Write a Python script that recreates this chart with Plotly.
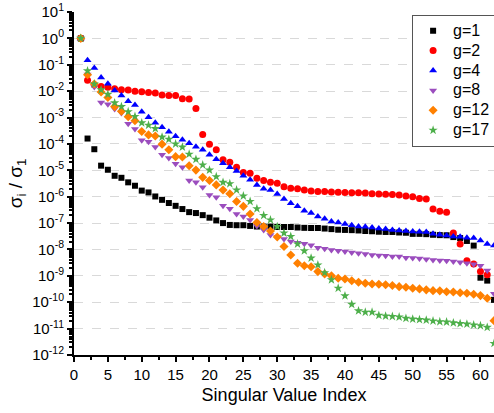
import plotly.graph_objects as go

index = list(range(1, 63))

g1 = [1, 1.6e-4, 6.3e-5, 1.5e-5, 1.05e-5, 6.2e-6, 5.2e-6, 3.5e-6, 2.6e-6, 1.7e-6,
      1.45e-6, 1.02e-6, 7.6e-7, 5.75e-7, 4.5e-7, 3.4e-7, 2.6e-7, 2.4e-7, 2.0e-7, 1.6e-7,
      1.26e-7, 1.0e-7, 8.5e-8, 8.3e-8, 8.3e-8, 7.8e-8, 7.4e-8, 7.4e-8, 7.4e-8, 7.1e-8,
      7.1e-8, 7.1e-8, 6.8e-8, 6.6e-8, 6.5e-8, 6.5e-8, 6.2e-8, 5.9e-8, 5.6e-8, 5.5e-8,
      5.4e-8, 5.25e-8, 5.0e-8, 4.9e-8, 4.7e-8, 4.6e-8, 4.6e-8, 4.4e-8, 4.3e-8, 3.9e-8,
      3.9e-8, 3.8e-8, 3.6e-8, 3.5e-8, 3.45e-8, 2.95e-8, 2.7e-8, 2.1e-8, 1.4e-8, 8.5e-10,
      6.6e-10, 1.23e-10]

g2 = [1, 2.6e-2, 1.74e-2, 1.5e-2, 1.4e-2, 1.23e-2, 1.12e-2, 1.1e-2, 1.0e-2, 9.5e-3,
      8.9e-3, 8.5e-3, 7.2e-3, 6.9e-3, 6.8e-3, 5.1e-3, 5.0e-3, 2.2e-3, 2.3e-4, 9.8e-5,
      6.0e-5, 2.5e-5, 2.0e-5, 1.3e-5, 8.3e-6, 7.8e-6, 5.0e-6, 4.1e-6, 3.5e-6, 3.2e-6,
      2.4e-6, 2.1e-6, 2.0e-6, 1.8e-6, 1.66e-6, 1.58e-6, 1.58e-6, 1.5e-6, 1.48e-6, 1.45e-6,
      1.41e-6, 1.41e-6, 1.38e-6, 1.29e-6, 1.26e-6, 1.23e-6, 1.2e-6, 1.15e-6, 1.07e-6, 1.0e-6,
      8.5e-7, 8.1e-7, 3.4e-7, 2.8e-7, 2.6e-7, 4.2e-8, 1.6e-8, 3.7e-9, 2.8e-9, 1.45e-9,
      1.1e-9]

g4 = [1, 0.148, 7.6e-2, 3.3e-2, 1.9e-2, 1.05e-2, 6.9e-3, 4.1e-3, 3.0e-3, 1.66e-3,
      1.02e-3, 6.3e-4, 4.3e-4, 2.9e-4, 1.95e-4, 1.45e-4, 1.05e-4, 7.8e-5, 6.0e-5, 3.9e-5,
      2.6e-5, 1.86e-5, 1.3e-5, 9.5e-6, 6.2e-6, 4.4e-6, 2.8e-6, 2.0e-6, 1.8e-6, 1.26e-6,
      8.1e-7, 5.6e-7, 4.3e-7, 2.95e-7, 2.4e-7, 1.78e-7, 1.45e-7, 1.15e-7, 1.05e-7, 9.3e-8,
      8.3e-8, 7.4e-8, 7.2e-8, 6.8e-8, 6.2e-8, 5.9e-8, 5.5e-8, 5.25e-8, 5.0e-8, 4.8e-8,
      4.7e-8, 4.6e-8, 3.9e-8, 3.6e-8, 3.4e-8, 3.1e-8, 3.0e-8, 2.8e-8, 2.7e-8, 2.2e-8,
      1.6e-8, 1.4e-8]

g8 = [1, 4.3e-2, 1.45e-2, 3.7e-3, 3.2e-3, 2.1e-3, 1.5e-3, 5.8e-4, 3.7e-4, 1.38e-4,
      1.2e-4, 7.6e-5, 3.9e-5, 2.9e-5, 1.78e-5, 1.3e-5, 4.1e-6, 3.5e-6, 2.3e-6, 1.15e-6,
      9.5e-7, 4.5e-7, 3.5e-7, 2.2e-7, 1.78e-7, 1.32e-7, 7.8e-8, 5.5e-8, 3.5e-8, 2.95e-8,
      2.5e-8, 2.0e-8, 1.78e-8, 1.66e-8, 1.45e-8, 1.17e-8, 1.07e-8, 9.5e-9, 8.9e-9, 8.3e-9,
      7.6e-9, 7.2e-9, 6.8e-9, 6.2e-9, 5.9e-9, 5.75e-9, 5.4e-9, 5.4e-9, 4.9e-9, 4.7e-9,
      4.5e-9, 4.3e-9, 4.0e-9, 3.8e-9, 3.7e-9, 3.5e-9, 3.3e-9, 3.0e-9, 2.75e-9, 2.4e-9,
      1.58e-9, 2.1e-10]

g12 = [1, 4.2e-2, 1.86e-2, 9.3e-3, 5.75e-3, 2.6e-3, 1.74e-3, 1.07e-3, 7.6e-4, 2.95e-4,
       2.2e-4, 2.0e-4, 9.8e-5, 6.0e-5, 3.3e-5, 3.2e-5, 1.48e-5, 1.02e-5, 5.4e-6, 4.1e-6,
       2.8e-6, 1.8e-6, 1.29e-6, 6.6e-7, 4.3e-7, 2.2e-7, 1.05e-7, 7.4e-8, 5.0e-8, 2.95e-8,
       1.29e-8, 6.2e-9, 3.0e-9, 2.4e-9, 2.2e-9, 1.45e-9, 1.17e-9, 1.0e-9, 8.1e-10, 7.6e-10,
       6.5e-10, 5.75e-10, 5.25e-10, 4.9e-10, 4.8e-10, 4.6e-10, 4.3e-10, 3.9e-10, 3.7e-10, 3.4e-10,
       3.2e-10, 2.95e-10, 2.75e-10, 2.7e-10, 2.5e-10, 2.45e-10, 2.3e-10, 2.2e-10, 2.0e-10, 1.78e-10,
       1.41e-10, 2.0e-11]

g17 = [1, 5.9e-2, 1.86e-2, 1.12e-2, 7.6e-3, 3.6e-3, 2.6e-3, 1.66e-3, 1.1e-3, 6.3e-4,
       5.1e-4, 3.8e-4, 1.82e-4, 1.5e-4, 1.0e-4, 7.6e-5, 4.1e-5, 2.6e-5, 1.6e-5, 1.02e-5,
       5.75e-6, 3.5e-6, 3.1e-6, 1.8e-6, 1.07e-6, 6.6e-7, 3.5e-7, 1.95e-7, 1.32e-7, 7.4e-8,
       4.2e-8, 3.1e-8, 1.62e-8, 8.9e-9, 4.7e-9, 2.6e-9, 1.32e-9, 7.1e-10, 3.4e-10, 1.74e-10,
       8.3e-11, 4.7e-11, 4.2e-11, 4.2e-11, 3.2e-11, 3.0e-11, 2.9e-11, 2.75e-11, 2.45e-11, 2.3e-11,
       2.2e-11, 2.1e-11, 1.95e-11, 1.82e-11, 1.78e-11, 1.66e-11, 1.55e-11, 1.48e-11, 1.38e-11, 1.29e-11,
       1.12e-11, 2.75e-12]

y_tick_exponents = [1, 0, -1, -2, -3, -4, -5, -6, -7, -8, -9, -10, -11, -12]
x_tick_labels = [0, 5, 10, 15, 20, 25, 30, 35, 40, 45, 50, 55, 60]

series = [
    ("g=1", g1, "#000000", "square", 6),
    ("g=2", g2, "#FF0000", "circle", 7),
    ("g=4", g4, "#0000FF", "triangle-up", 7),
    ("g=8", g8, "#9B4DBE", "triangle-down", 7),
    ("g=12", g12, "#FF8000", "diamond", 7),
    ("g=17", g17, "#4DAF4A", "star", 7),
]

fig = go.Figure()
for name, vals, color, sym, size in series:
    fig.add_trace(go.Scatter(
        x=index[:len(vals)], y=vals, mode="markers",
        name='<span style="font-size:16px">%s</span>' % name,
        marker=dict(symbol=sym, size=size, color=color, line=dict(width=0)),
    ))

font = "Liberation Sans, Arial, sans-serif"
fig.update_layout(
    width=494, height=413,
    margin=dict(l=74, r=0, t=12, b=58, autoexpand=False),
    paper_bgcolor="white", plot_bgcolor="white",
    font=dict(family=font, color="black", size=15),
    showlegend=True,
    legend=dict(
        x=0.805, y=0.992, xanchor="left", yanchor="top",
        bordercolor="#555555", borderwidth=1, bgcolor="white",
        font=dict(size=13), tracegroupgap=0, itemwidth=30,
    ),
)
fig.update_xaxes(
    range=[0, 62], tickvals=x_tick_labels, ticktext=[str(v) for v in x_tick_labels],
    showline=True, linecolor="black", linewidth=2,
    ticks="outside", ticklen=5, tickwidth=1.5, tickcolor="black",
    minor=dict(ticks="outside", ticklen=3, tickcolor="black", dtick=2.5, tick0=0),
    showgrid=False, zeroline=False, automargin=False,
    title=dict(text="Singular Value Index", font=dict(size=18), standoff=6),
    tickfont=dict(size=15),
)
fig.update_yaxes(
    type="log", range=[-12, 1],
    tickvals=[10.0 ** e for e in y_tick_exponents],
    ticktext=["10<sup>%d</sup>" % e for e in y_tick_exponents],
    showline=True, linecolor="black", linewidth=2,
    ticks="outside", ticklen=5, tickwidth=1.5, tickcolor="black",
    minor=dict(ticks="outside", ticklen=3, tickcolor="black", dtick="D1", showgrid=False),
    showgrid=True, gridcolor="#d9d9d9", griddash="dash", gridwidth=1,
    zeroline=False, automargin=False,
    title=dict(text="σ<sub>i</sub> / σ<sub>1</sub>", font=dict(size=19), standoff=4),
    tickfont=dict(size=15),
)

fig.write_html(
    "out.html",
    config={"displayModeBar": False},
    post_script="document.body.style.margin='0';document.body.style.overflow='hidden';",
)
